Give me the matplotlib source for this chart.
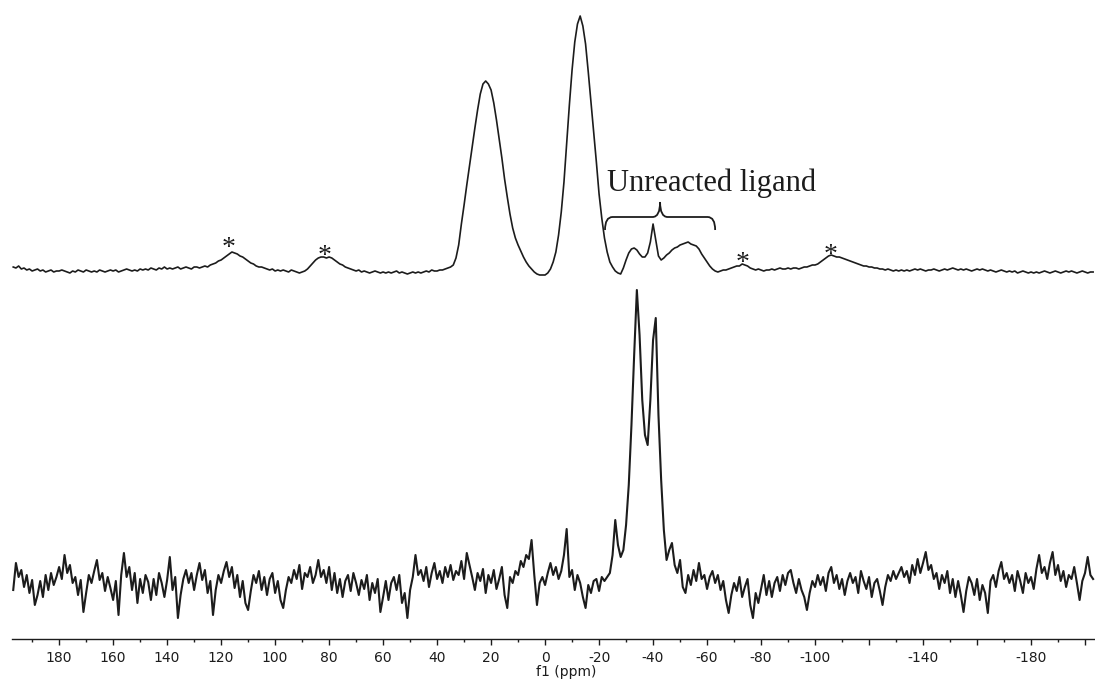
import numpy as np
import matplotlib
matplotlib.use('Agg')
import matplotlib.pyplot as plt
from matplotlib.path import Path
from matplotlib.patches import PathPatch

OUTPUT = 'out.png'
WIDTH_PX = 1095
HEIGHT_PX = 681
DPI = 100

LINE_COLOR = '#1c1c1c'

# chemical shift of the first sample, one sample per ppm going upfield
PPM_START = 197

# upper spectrum, intensity above its own baseline
TOP_INTENSITY = [
    3, 2, 4, 1, 2, 0, 1, -1, 0, 1,
    -1, 0, -2, -1, 0, -2, -1, -1, 0, -1,
    -2, -3, -1, -2, 0, -1, -2, 0, -1, -2,
    -1, -2, 0, -1, -2, -1, 0, -1, 0, -2,
    -1, 0, 1, 0, -1, 0, -1, 1, 0, 1,
    0, 2, 1, 0, 2, 1, 3, 1, 2, 1,
    2, 3, 1, 2, 3, 2, 1, 3, 3, 2,
    3, 4, 3, 5, 6, 7, 9, 10, 12, 14,
    16, 18, 17, 16, 14, 13, 11, 9, 7, 6,
    4, 3, 3, 2, 1, 0, 1, -1, 0, -1,
    0, -1, -2, 0, -1, -2, -3, -2, -1, 1,
    4, 7, 10, 12, 13, 13, 12, 13, 12, 10,
    8, 6, 5, 3, 2, 1, 0, -1, 0, -2,
    -1, -2, -3, -2, -1, -2, -3, -2, -3, -2,
    -3, -2, -1, -3, -2, -3, -4, -3, -2, -3,
    -2, -3, -2, -1, -2, 0, -1, -1, 0, 0,
    1, 2, 3, 5, 12, 25, 46, 65, 85, 104,
    123, 142, 160, 176, 186, 189, 186, 180, 167, 150,
    131, 112, 91, 73, 56, 42, 32, 25, 19, 13,
    8, 4, 1, -2, -4, -5, -5, -5, -3, 1,
    8, 18, 35, 58, 88, 126, 165, 200, 228, 246,
    254, 244, 226, 198, 168, 138, 108, 76, 52, 32,
    18, 8, 3, -1, -3, -4, 2, 10, 17, 21,
    22, 20, 16, 13, 13, 17, 28, 46, 30, 14,
    10, 12, 15, 17, 20, 22, 23, 25, 26, 27,
    28, 26, 25, 24, 21, 16, 12, 8, 4, 1,
    -1, -2, -1, 0, 0, 1, 2, 3, 4, 4,
    6, 5, 4, 2, 1, 0, 1, 0, -1, 0,
    0, 1, 0, 1, 2, 1, 1, 2, 1, 2,
    2, 1, 2, 3, 3, 4, 5, 5, 6, 8,
    10, 12, 14, 15, 14, 13, 13, 12, 11, 10,
    9, 8, 7, 6, 5, 4, 4, 3, 3, 2,
    2, 1, 1, 0, 1, 0, -1, 0, -1, 0,
    -1, 0, -1, 0, 1, 0, 1, 0, -1, 0,
    0, 1, 0, -1, 0, 1, 0, 1, 2, 1,
    0, 1, 0, 1, 0, -1, 0, 1, 0, 1,
    0, -1, 0, -1, -2, -1, 0, -1, -2, -1,
    -2, -1, -3, -2, -1, -2, -3, -2, -3, -2,
    -3, -2, -1, -2, -3, -2, -1, -2, -3, -2,
    -1, -2, -1, -2, -3, -2, -1, -2, -3, -2, -2,
]

# lower spectrum, intensity above its own baseline
BOTTOM_INTENSITY = [
    -5, 22, 8, 15, -2, 10, -8, 5, -20, -10,
    4, -12, 10, -5, 12, 0, 8, 18, 6, 30,
    12, 20, 2, 8, -10, 5, -27, -8, 10, 2,
    14, 25, 5, 12, -6, 8, -3, -15, 4, -30,
    10, 32, 8, 18, -5, 12, -18, 6, -8, 10,
    3, -15, 6, -10, 12, 2, -12, 5, 28, -5,
    8, -33, -10, 6, 15, 2, 12, -5, 10, 22,
    5, 15, -8, 4, -30, -5, 10, 2, 14, 23,
    8, 18, -3, 10, -12, 4, -18, -25, -6, 10,
    2, 14, -5, 8, -10, 6, 12, -8, 4, -15,
    -23, -5, 8, 2, 15, 6, 20, -4, 12, 8,
    18, 2, 10, 25, 8, 15, 2, 18, -5, 12,
    -8, 6, -12, 4, 10, -6, 12, 2, -10, 5,
    -4, 10, -15, 2, -8, 6, -27, -12, 4, -15,
    2, 8, -5, 10, -18, -8, -33, -5, 8, 30,
    10, 15, 4, 18, -2, 12, 22, 6, 14, 2,
    18, 8, 20, 5, 14, 10, 24, 6, 32, 20,
    8, -5, 12, 4, 16, -8, 10, 2, 15, -4,
    6, 18, -10, -23, 8, 2, 14, 10, 24, 18,
    30, 26, 45, 10, -20, 2, 8, 0, 12, 22,
    10, 18, 6, 14, 30, 56, 8, 15, -5, 10,
    2, -12, -23, 0, -8, 4, 6, -6, 8, 4,
    8, 12, 30, 65, 40, 28, 35, 60, 100, 160,
    230, 295, 250, 185, 150, 140, 185, 245, 267, 170,
    105, 55, 25, 35, 42, 20, 12, 25, -2, -8,
    10, 0, 15, 4, 22, 6, 10, -4, 8, 14,
    2, 10, -5, 4, -15, -28, -10, 2, -6, 8,
    -12, -2, 6, -20, -33, -8, -18, -4, 10, -10,
    4, -12, 2, 8, -6, 10, 0, 12, 15, 2,
    -8, 6, -5, -12, -25, -8, 4, -2, 10, 0,
    8, -6, 12, 18, 2, 10, -4, 6, -10, 4,
    12, 2, 8, -8, 14, 4, -4, 8, -12, 2,
    6, -6, -20, -2, 10, 4, 14, 6, 12, 18,
    8, 14, 2, 20, 10, 26, 12, 22, 33, 15,
    20, 6, 12, -4, 10, 2, 14, -8, 6, -12,
    4, -10, -27, -6, 8, 2, -10, 6, -15, 0,
    -8, -28, 4, 10, -2, 14, 23, 6, 12, 2,
    10, -6, 14, 4, -8, 12, 2, 8, -4, 16,
    30, 12, 18, 6, 22, 33, 10, 20, 4, 14,
    -2, 10, 6, 18, 2, -15, 4, 12, 28, 10, 6,
]

MAJOR_TICKS = list(range(180, -201, -20))
TICK_LABELS = ['180', '160', '140', '120', '100', '80', '60', '40', '20', '0',
               '-20', '-40', '-60', '-80', '-100', '', '-140', '', '-180', '']
MINOR_TICKS = list(range(190, -201, -10))

# spinning sidebands marked with an asterisk (ppm, height)
SIDEBAND_PPM = [117.4, 81.5, -73.3, -105.9]
SIDEBAND_Y = [384, 376, 369, 377]

TOP_OFFSET = 369
BOTTOM_OFFSET = 54


def draw_bracket(ax, left, right, y_end, y_bar, y_tip):
    mid = (left + right) / 2
    r = 2.8
    verts = [
        (left, y_end), (left, y_bar), (left - r, y_bar),
        (mid + r, y_bar), (mid, y_bar), (mid, y_tip),
        (mid, y_bar), (mid - r, y_bar),
        (right + r, y_bar), (right, y_bar), (right, y_end),
    ]
    codes = [
        Path.MOVETO, Path.CURVE3, Path.CURVE3,
        Path.LINETO, Path.CURVE3, Path.CURVE3,
        Path.CURVE3, Path.CURVE3,
        Path.LINETO, Path.CURVE3, Path.CURVE3,
    ]
    patch = PathPatch(Path(verts, codes), facecolor='none',
                      edgecolor=LINE_COLOR, linewidth=1.3)
    ax.add_patch(patch)


if __name__ == '__main__':
    fig = plt.figure(figsize=(WIDTH_PX / DPI, HEIGHT_PX / DPI), dpi=DPI)
    ax = fig.add_axes([0, 42 / HEIGHT_PX, 1, 639 / HEIGHT_PX])

    top = np.array(TOP_INTENSITY, dtype=float)
    bottom = np.array(BOTTOM_INTENSITY, dtype=float)
    ppm_top = PPM_START - np.arange(len(top))
    ppm_bottom = PPM_START - np.arange(len(bottom))

    ax.plot(ppm_top, top + TOP_OFFSET, color=LINE_COLOR, linewidth=1.2)
    ax.plot(ppm_bottom, bottom + BOTTOM_OFFSET, color=LINE_COLOR, linewidth=1.5)

    for x, y in zip(SIDEBAND_PPM, SIDEBAND_Y):
        ax.text(x, y, '*', ha='center', va='baseline', fontsize=20,
                family=['Liberation Serif', 'DejaVu Serif'], color=LINE_COLOR)

    draw_bracket(ax, -22.2, -63.0, 409, 422, 437)
    ax.text(-23.0, 448, 'Unreacted ligand', ha='left', va='baseline',
            fontsize=22, family=['Liberation Serif', 'DejaVu Serif'],
            color=LINE_COLOR)

    ax.set_xlim(201.9, -203.7)
    ax.set_ylim(0, 639)

    for side in ['left', 'top', 'right']:
        ax.spines[side].set_visible(False)
    ax.spines['bottom'].set_bounds(197.5, -203.7)
    ax.spines['bottom'].set_linewidth(1.0)
    ax.spines['bottom'].set_color(LINE_COLOR)

    ax.set_yticks([])
    ax.set_xticks(MAJOR_TICKS, TICK_LABELS)
    ax.set_xticks(MINOR_TICKS, minor=True)
    ax.tick_params(axis='x', which='major', direction='out', length=4,
                   width=1.0, pad=5, labelsize=10, colors=LINE_COLOR)
    ax.tick_params(axis='x', which='minor', direction='out', length=2.5,
                   width=1.0, colors=LINE_COLOR)

    fig.text(566 / WIDTH_PX, (HEIGHT_PX - 665) / HEIGHT_PX, 'f1 (ppm)',
             ha='center', va='top', fontsize=10, color=LINE_COLOR)

    fig.savefig(OUTPUT, dpi=DPI)
